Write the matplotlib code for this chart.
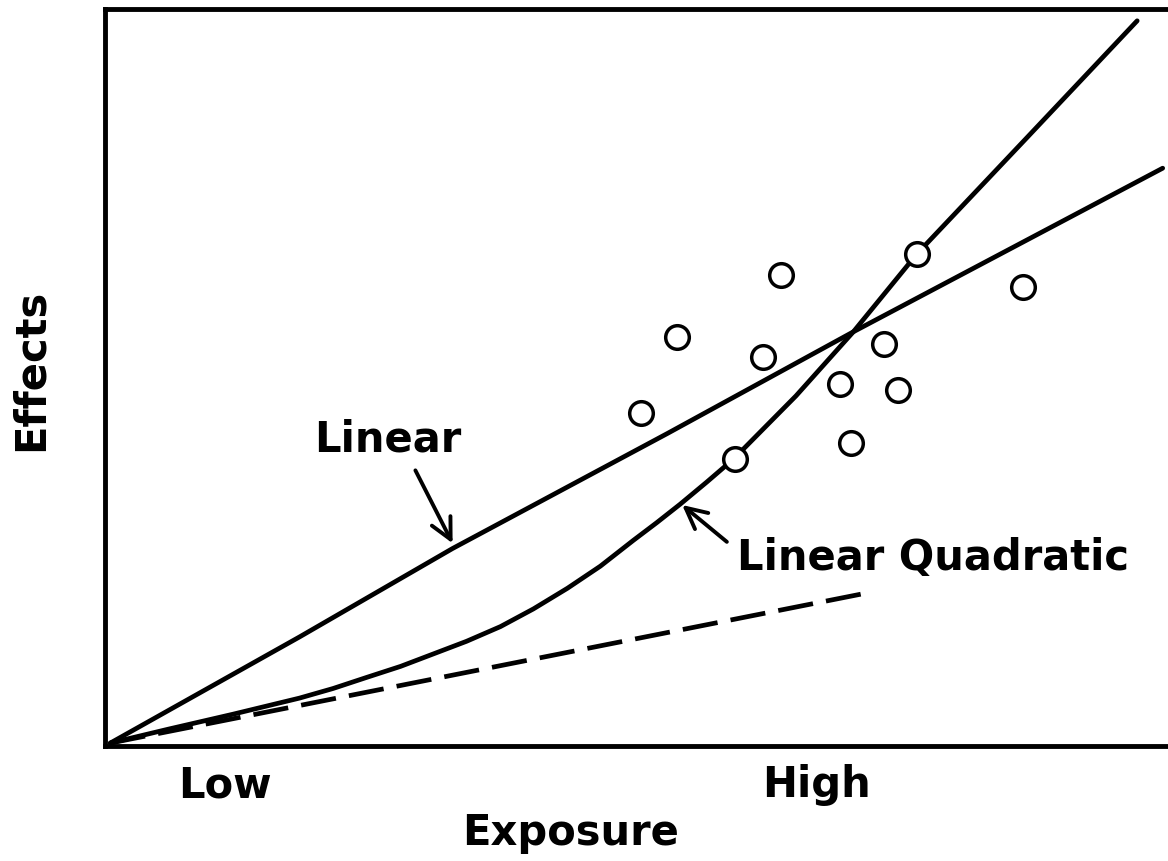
import matplotlib.pyplot as plt

# exposure / effect values (arbitrary units, 0-10)
linear_x = [0.05, 1.83, 3.27, 5.29, 7.04, 9.95]
linear_y = [0.04, 1.48, 2.68, 4.24, 5.62, 7.84]

lq_x = [0.05, 0.60, 1.20, 1.83, 2.145, 2.46, 2.78, 3.09, 3.40, 3.72, 4.03, 4.35, 4.66,
        4.97, 5.19, 5.41, 5.66, 5.91, 6.50, 7.04, 7.64, 8.67, 9.71]
lq_y = [0.04, 0.23, 0.43, 0.65, 0.78, 0.93, 1.08, 1.25, 1.42, 1.62, 1.86, 2.14, 2.44,
        2.79, 3.03, 3.28, 3.58, 3.89, 4.75, 5.62, 6.68, 8.25, 9.84]

low_dose_x = [0.05, 7.18]
low_dose_y = [0.04, 2.08]

obs_x = [5.04, 5.38, 6.36, 6.19, 5.93, 6.91, 7.02, 7.33, 7.46, 7.64, 8.64]
obs_y = [4.52, 5.55, 6.39, 5.28, 3.89, 4.91, 4.11, 5.45, 4.83, 6.68, 6.23]

plt.rcParams['font.family'] = ['DejaVu Sans']
plt.rcParams['font.weight'] = 'bold'
FS = 30

fig = plt.figure(figsize=(11.68, 8.61), dpi=100)
ax = fig.add_axes([105 / 1168, 115 / 861, 1 - 105 / 1168, 737 / 861])

ax.plot(linear_x, linear_y, color='black', lw=3.4, solid_capstyle='round', solid_joinstyle='round')
ax.plot(lq_x, lq_y, color='black', lw=3.4, solid_capstyle='round', solid_joinstyle='round')
ax.plot(low_dose_x, low_dose_y, color='black', lw=3.4, dashes=(7.5, 2.8))
ax.plot(obs_x, obs_y, 'o', ms=17, mfc='white', mec='black', mew=2.5, zorder=5)

arrow = dict(arrowstyle='->,head_length=0.5,head_width=0.25', lw=2.8, color='black',
             shrinkA=0, shrinkB=0, mutation_scale=30)
ax.annotate('', xy=(3.27, 2.75), xytext=(2.92, 3.74), arrowprops=arrow)
ax.annotate('', xy=(5.43, 3.27), xytext=(5.85, 2.77), arrowprops=arrow)

ax.text(2.66, (746 - 452) / 73.7, 'Linear', fontsize=FS, fontweight='bold', ha='center', va='baseline')
ax.text(5.95, (746 - 570) / 73.7, 'Linear Quadratic', fontsize=FS, fontweight='bold',
        ha='left', va='baseline')

ax.set_xlim(0, 10)
ax.set_ylim(0, 10)
ax.set_xticks([])
ax.set_yticks([])
ax.spines['right'].set_visible(False)
for s in ['left', 'bottom', 'top']:
    ax.spines[s].set_linewidth(3.5)

fig.text(225 / 1168, 1 - 797 / 861, 'Low', fontsize=FS, fontweight='bold', ha='center', va='baseline')
fig.text(816 / 1168, 1 - 797 / 861, 'High', fontsize=FS, fontweight='bold', ha='center', va='baseline')
fig.text(571 / 1168, 1 - 845 / 861, 'Exposure', fontsize=FS, fontweight='bold', ha='center', va='baseline')
fig.text(31 / 1168, 1 - 370 / 861, 'Effects', fontsize=FS, fontweight='bold', ha='center', va='center',
         rotation=90)

fig.savefig('out.png', dpi=100)
